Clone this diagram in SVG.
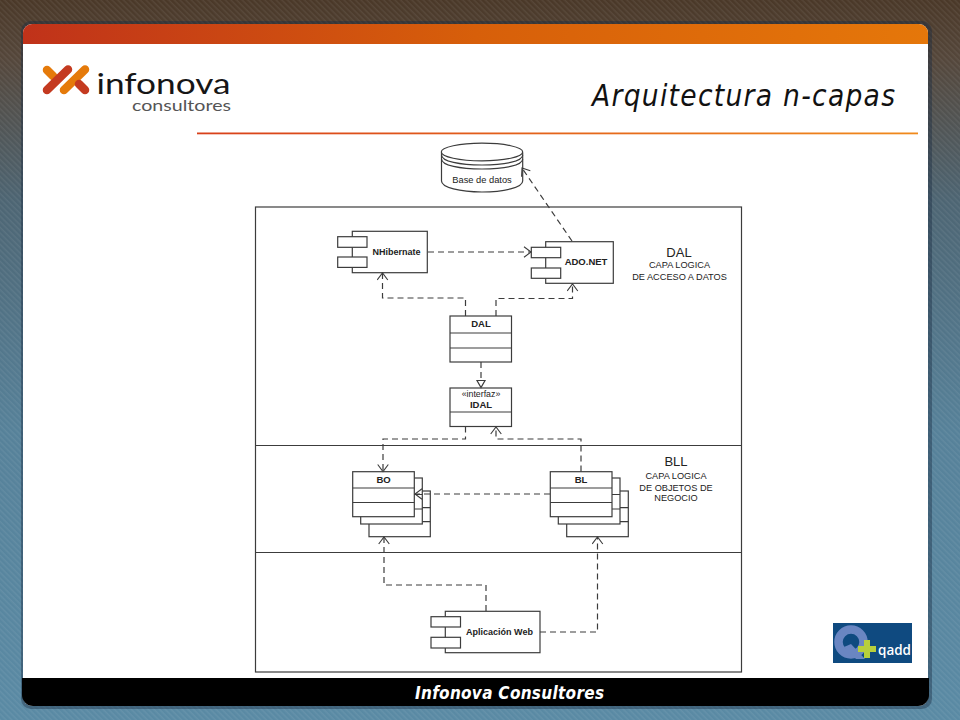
<svg xmlns="http://www.w3.org/2000/svg" width="960" height="720" viewBox="0 0 960 720">
<style>
.box{fill:#fff;stroke:#3c3c3c;stroke-width:1.2}
.ln{fill:none;stroke:#3c3c3c;stroke-width:1.2}
.dash{fill:none;stroke:#3c3c3c;stroke-width:1.2;stroke-dasharray:6 4;marker-end:url(#open)}
text{font-family:"Liberation Sans",Arial,sans-serif;fill:#222;text-anchor:middle}
.b{font-weight:bold;font-size:9px}
.s{font-size:9.200px}
.h{font-size:13px}
</style>
<defs>
<linearGradient id="bg" x1="0" y1="0" x2="0" y2="1">
<stop offset="0" stop-color="#4a3828"/><stop offset=".08" stop-color="#54463a"/><stop offset=".28" stop-color="#4d6573"/><stop offset=".6" stop-color="#568199"/><stop offset="1" stop-color="#5a8aa4"/>
</linearGradient>
<pattern id="hatch" width="4" height="4" patternUnits="userSpaceOnUse" patternTransform="rotate(45)">
<rect width="4" height="1.5" fill="#fff" fill-opacity=".07"/>
</pattern>
<linearGradient id="hdr" x1="0" y1="0" x2="1" y2="0">
<stop offset="0" stop-color="#c0321a"/><stop offset=".5" stop-color="#d75f0a"/><stop offset="1" stop-color="#e5770a"/>
</linearGradient>
<linearGradient id="rule" x1="0" y1="0" x2="1" y2="0">
<stop offset="0" stop-color="#d8401a"/><stop offset="1" stop-color="#f08a1c"/>
</linearGradient>
<marker id="open" viewBox="0 0 12 12" refX="11" refY="6" markerWidth="12" markerHeight="12" markerUnits="userSpaceOnUse" orient="auto">
<path d="M4 .7L11 6L4 11.300" fill="none" stroke="#3c3c3c" stroke-width="1.1"/>
</marker>
</defs>

<g id="background">
<rect width="960" height="720" fill="url(#bg)"/>
<rect width="960" height="720" fill="url(#hatch)"/>
<rect x="21" y="21" width="911" height="688" rx="10" fill="#1a2a40" fill-opacity=".4"/>
<rect x="23" y="24" width="905" height="682" rx="9" fill="#fff"/>
<path d="M23 44V33a9 9 0 0 1 9-9H919a9 9 0 0 1 9 9V44Z" fill="url(#hdr)"/>
<path d="M22 678H929V695a11 11 0 0 1-11 11H33a11 11 0 0 1-11-11Z" fill="#000"/>
<rect x="197" y="132.500" width="721" height="1.800" fill="url(#rule)"/>
</g>

<g id="logo">
<g fill="none" stroke-linecap="round" stroke-width="8.500">
<path d="M47 70L53 76" stroke="#e57a0a"/>
<path d="M47 90L68 69.500" stroke="#c43a20"/>
<path d="M64 90L85 69.500" stroke="#e57a0a"/>
<path d="M79 84L85 90" stroke="#c43a20"/>
</g>
<text x="163.500" y="94" style="font-family:Lato,'Open Sans',sans-serif;font-weight:400;font-size:28px;fill:#161616" textLength="134" lengthAdjust="spacingAndGlyphs">infonova</text>
<text x="181.500" y="111" style="font-family:Lato,'Open Sans',sans-serif;font-weight:400;font-size:16px;fill:#555" textLength="99" lengthAdjust="spacingAndGlyphs">consultores</text>
</g>

<text id="title" x="895" y="106" style="font-family:'DejaVu Sans Condensed','DejaVu Sans',sans-serif;font-style:oblique;font-size:29.500px;fill:#111;text-anchor:end" textLength="303" lengthAdjust="spacing">Arquitectura n-capas</text>
<text id="footer" x="509.500" y="698.500" style="font-family:'DejaVu Sans Condensed','DejaVu Sans',sans-serif;font-style:oblique;font-weight:bold;font-size:17px;fill:#fff" textLength="189" lengthAdjust="spacing">Infonova Consultores</text>

<g id="qadd">
<rect x="833" y="623" width="79" height="40" fill="#0f4a80"/>
<circle cx="851" cy="642" r="12.500" fill="none" stroke="#6a86c2" stroke-width="8.500"/>
<path d="M851 644L865 659H856L844 647Z" fill="#6a86c2"/>
<path d="M864 640h6v6h6v6h-6v6h-6v-6h-6v-6h6Z" fill="#b7cf3c"/>
<text x="894.500" y="655" style="font-family:'Open Sans',sans-serif;font-weight:600;font-size:14px;fill:#fff" textLength="33" lengthAdjust="spacingAndGlyphs">qadd</text>
</g>

<g id="frame" class="ln">
<rect x="255.500" y="207" width="486" height="465"/>
<path d="M255.500 445.500H741.500M255.500 552.500H741.500"/>
</g>

<g id="layer-labels">
<text class="h" x="679" y="257">DAL</text>
<text class="s" x="679.500" y="268">CAPA LOGICA</text>
<text class="s" x="679.500" y="280">DE ACCESO A DATOS</text>
<text class="h" x="676" y="466">BLL</text>
<text class="s" x="676" y="479">CAPA LOGICA</text>
<text class="s" x="676" y="490.500">DE OBJETOS DE</text>
<text class="s" x="676" y="501">NEGOCIO</text>
</g>

<g id="database">
<path class="box" d="M441.500 153V181C441.500 187.500 460 192 482 192S522.700 187.500 522.700 181V153Z"/>
<ellipse class="box" cx="482" cy="152" rx="40.700" ry="8.800"/>
<path class="ln" d="M441.500 155C441.500 161.500 460 165 482 165S522.700 161.500 522.700 155M441.500 159C441.500 165.500 460 169 482 169S522.700 165.500 522.700 159"/>
<text x="482" y="182.500" style="font-size:9.300px">Base de datos</text>
</g>

<g id="nhibernate">
<rect class="box" x="352.300" y="231.300" width="75" height="41.400"/>
<rect class="box" x="337.700" y="236.700" width="29.300" height="10.600"/>
<rect class="box" x="337.700" y="257" width="29.300" height="10.400"/>
<text class="b" x="396.500" y="255">NHibernate</text>
</g>

<g id="adonet">
<rect class="box" x="545.700" y="241.700" width="67.600" height="41.600"/>
<rect class="box" x="531.300" y="247.300" width="29.400" height="10.400"/>
<rect class="box" x="531.300" y="268" width="29.400" height="10.300"/>
<text class="b" x="586" y="265" style="font-size:9.500px">ADO.NET</text>
</g>

<g id="dal">
<rect class="box" x="450" y="316" width="61.500" height="46"/>
<path class="ln" d="M450 333H511.500M450 348H511.500"/>
<text class="b" x="481" y="327" style="font-size:9.500px">DAL</text>
</g>

<g id="idal">
<rect class="box" x="450" y="388" width="61.500" height="38.500"/>
<path class="ln" d="M450 412H511.500"/>
<text x="481" y="397" style="font-size:8.800px">«interfaz»</text>
<text class="b" x="481" y="407.700" style="font-size:9.500px">IDAL</text>
</g>

<g id="bo">
<rect class="box" x="369" y="491" width="61.300" height="45.700"/>
<path class="ln" d="M369 507.700H430.300M369 521.700H430.300"/>
<rect class="box" x="360.700" y="478" width="61.600" height="46"/>
<path class="ln" d="M360.700 494.500H422.300M360.700 509H422.300"/>
<rect class="box" x="352.700" y="471.700" width="61.600" height="45"/>
<path class="ln" d="M352.700 488H414.300M352.700 502.500H414.300"/>
<text class="b" x="383.500" y="482.500" style="font-size:9.500px">BO</text>
</g>

<g id="bl">
<rect class="box" x="566.700" y="491" width="61.600" height="45.700"/>
<path class="ln" d="M566.700 507.700H628.300M566.700 521.700H628.300"/>
<rect class="box" x="558.300" y="478" width="61.700" height="46"/>
<path class="ln" d="M558.300 494.500H620M558.300 509H620"/>
<rect class="box" x="550.300" y="471.700" width="61.700" height="45"/>
<path class="ln" d="M550.300 488H612M550.300 502.500H612"/>
<text class="b" x="581" y="482.500" style="font-size:9.500px">BL</text>
</g>

<g id="web">
<rect class="box" x="445.300" y="611.300" width="94.700" height="41.400"/>
<rect class="box" x="431" y="616.700" width="29.500" height="10.300"/>
<rect class="box" x="431" y="637.300" width="29.500" height="10.700"/>
<text class="b" x="499.500" y="634.500">Aplicación Web</text>
</g>

<g id="connectors">
<path class="dash" d="M428 252H531"/>
<path class="dash" d="M572 241L522 168"/>
<path class="dash" d="M465.500 316V298H382.500V273"/>
<path class="dash" d="M496 316V298.500H572.500V284"/>
<path class="ln" style="stroke-dasharray:6 4" d="M481 362V380"/>
<path class="box" d="M477 380.500H485L481 387.500Z"/>
<path class="dash" d="M465.500 426.500V439H383V471.500"/>
<path class="dash" d="M581 471.500V439H496V427"/>
<path class="dash" d="M550 494H415"/>
<path class="dash" d="M486 611V585H384V537"/>
<path class="dash" d="M540 632H597.500V537"/>
</g>
</svg>
